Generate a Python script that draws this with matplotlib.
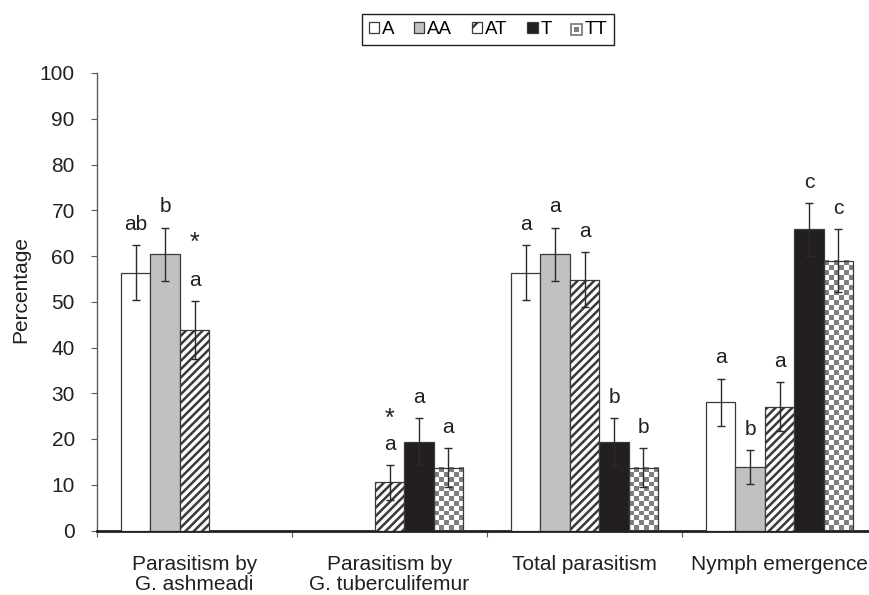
import matplotlib
matplotlib.use("Agg")
import matplotlib.pyplot as plt
import numpy as np
from matplotlib.colors import ListedColormap
from matplotlib.patches import Patch, Rectangle

plt.rcParams["font.family"] = ["Liberation Sans", "DejaVu Sans"]
plt.rcParams["hatch.linewidth"] = 1.8
plt.rcParams["hatch.color"] = "#231f20"

groups = ["Parasitism by\nG. ashmeadi", "Parasitism by\nG. tuberculifemur",
          "Total parasitism", "Nymph emergence"]
genotypes = ["A", "AA", "AT", "T", "TT"]

nan = np.nan
means = {
    "A": [56.3, nan, 56.3, 28.0],
    "AA": [60.4, nan, 60.4, 13.9],
    "AT": [43.8, 10.5, 54.8, 27.1],
    "T": [nan, 19.4, 19.4, 65.8],
    "TT": [nan, 13.7, 13.7, 59.0],
}
errors = {
    "A": [6.0, nan, 6.0, 5.2],
    "AA": [5.8, nan, 5.8, 3.7],
    "AT": [6.3, 3.8, 6.0, 5.4],
    "T": [nan, 5.1, 5.1, 5.7],
    "TT": [nan, 4.3, 4.3, 6.8],
}
letters = {
    "A": ["ab", "", "a", "a"],
    "AA": ["b", "", "a", "b"],
    "AT": ["a", "a", "a", "a"],
    "T": ["", "a", "b", "c"],
    "TT": ["", "a", "b", "c"],
}
# asterisks sit over the AT bars of the first two groups
star_groups = [0, 1]
star_heights = [61.3, 22.9]

dark = "#231f20"
grey = "#c0c1c3"
check = "#7f7f7f"
styles = {
    "A": dict(facecolor="white"),
    "AA": dict(facecolor=grey),
    "AT": dict(facecolor="white", hatch="////"),
    "T": dict(facecolor=dark),
    "TT": dict(facecolor="none"),  # checker drawn underneath
}

W, H = 869, 595
fig = plt.figure(figsize=(W / 100, H / 100), dpi=100)
ax = fig.add_axes([97 / W, 64.5 / H, 780 / W, 457.5 / H])
ax.set_xlim(0, 4)
ax.set_ylim(0, 100)

width = 0.151
x = np.arange(len(groups)) + 0.5
px_per_unit = 457.5 / 100

for i, g in enumerate(genotypes):
    vals = np.array(means[g], dtype=float)
    errs = np.array(errors[g], dtype=float)
    pos = x + (i - 2) * width
    ok = ~np.isnan(vals)
    if g == "TT":
        cmap = ListedColormap(["white", check])
        for p, v in zip(pos[ok], vals[ok]):
            nrows = max(1, int(round(v * px_per_unit / 5)))
            board = np.indices((nrows, 6)).sum(axis=0) % 2
            ax.imshow(board, extent=(p - width / 2, p + width / 2, 0, v), cmap=cmap,
                      interpolation="nearest", aspect="auto", origin="lower", zorder=2)
    ax.bar(pos[ok], vals[ok], width, edgecolor="#3a3a3a", linewidth=0.9, zorder=3, **styles[g])
    ax.errorbar(pos[ok], vals[ok], yerr=errs[ok], fmt="none", ecolor="#2b2b2b",
                elinewidth=1, capsize=2.6, capthick=1, zorder=4)
    for p, v, e, lab in zip(pos, vals, errs, letters[g]):
        if lab:
            ax.annotate(lab, (p, v + e), xytext=(0, 11), textcoords="offset points",
                        ha="center", va="baseline", fontsize=15, color=dark)

for gi, h in zip(star_groups, star_heights):
    ax.text(x[gi], h, "*", ha="center", va="baseline", fontsize=18, color=dark)

ax.set_xlim(0, 4)
ax.set_ylim(0, 100)

for s in ["top", "right"]:
    ax.spines[s].set_visible(False)
ax.spines["left"].set_color("#5a5a5a")
ax.spines["left"].set_linewidth(1)
ax.spines["bottom"].set_color(dark)
ax.spines["bottom"].set_linewidth(2)

ax.set_xticks(np.arange(5))
ax.set_xticklabels([])
ax.set_xticks(x, minor=True)
ax.set_xticklabels(groups, minor=True, fontsize=15, color=dark, linespacing=1.05)
ax.tick_params(axis="x", which="major", direction="out", length=4, color="#5a5a5a")
ax.tick_params(axis="x", which="minor", length=0, pad=18)

ax.set_yticks(np.arange(0, 101, 10))
ax.tick_params(axis="y", direction="out", length=4, pad=12, labelsize=15,
               color="#5a5a5a", labelcolor=dark)
ax.set_ylabel("Percentage", fontsize=15, color=dark)
ax.yaxis.set_label_coords(-0.086, 0.526)


class CheckerHandler:
    def legend_artist(self, legend, orig_handle, fontsize, handlebox):
        x0, y0 = handlebox.xdescent, handlebox.ydescent
        w, h = handlebox.width, handlebox.height
        tr = handlebox.get_transform()
        outer = Rectangle((x0, y0), w, h, facecolor="white", edgecolor=check, lw=1.3, transform=tr)
        inner = Rectangle((x0 + w * 0.3, y0 + h * 0.3), w * 0.4, h * 0.4,
                          facecolor=check, edgecolor="none", transform=tr)
        handlebox.add_artist(outer)
        handlebox.add_artist(inner)
        return outer


handles = [Patch(edgecolor="#3a3a3a", linewidth=0.9, **styles[g]) for g in genotypes[:4]]
handles[2] = Patch(edgecolor="#3a3a3a", linewidth=0.9, facecolor="white", hatch="//")
handles.append(Patch(facecolor="none"))
fig.legend(handles, genotypes, loc="center", bbox_to_anchor=(488 / W, 1 - 29.5 / H), ncol=5,
           fontsize=13.5, frameon=True, fancybox=False, edgecolor=dark, framealpha=1,
           handlelength=0.55, handleheight=0.55, handletextpad=0.15, columnspacing=1.05,
           borderpad=0.35, handler_map={handles[-1]: CheckerHandler()})

fig.savefig("out.png", dpi=100)
